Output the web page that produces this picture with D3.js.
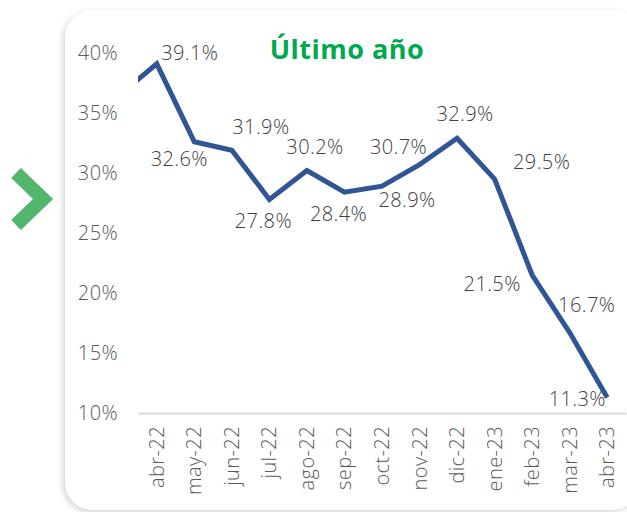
<!DOCTYPE html>
<html>

<head>
  <meta charset="utf8">
  <script src="https://d3js.org/d3.v7.min.js"></script>
  <style>
    body { margin: 0; background: #fff; }
    text { font-family: 'Open Sans', sans-serif; fill: #404040; font-weight: 300; letter-spacing: 0.4px; }
  </style>
</head>

<body>
  <svg id="chart" width="627" height="512"></svg>
  <script>
    // previous month (mar-22) sits just outside the plot and gets clipped
    var prevValue = 36.5;
    var months = ['abr-22', 'may-22', 'jun-22', 'jul-22', 'ago-22', 'sep-22', 'oct-22',
      'nov-22', 'dic-22', 'ene-23', 'feb-23', 'mar-23', 'abr-23'];
    var values = [39.1, 32.6, 31.9, 27.8, 30.2, 28.4, 28.9, 30.7, 32.9, 29.5, 21.5, 16.7, 11.3];
    var yTicks = [10, 15, 20, 25, 30, 35, 40];
    // label placement, the way the original has them
    var labelPlace = ['r', 'bl', 'ar', 'b', 'a', 'b', 'br', 'al', 'a', 'rr', 'l', 'ua', 'll'];

    var chart = d3.select('#chart');
    var margin = { top: 53, right: 1, bottom: 99, left: 138 };
    var width = chart.attr('width') - margin.left - margin.right;
    var height = chart.attr('height') - margin.top - margin.bottom;

    var defs = chart.append('defs');
    var f = defs.append('filter').attr('id', 'shadow')
      .attr('x', '-10%').attr('y', '-10%').attr('width', '120%').attr('height', '120%');
    f.append('feDropShadow').attr('dx', -2).attr('dy', 2).attr('stdDeviation', 3)
      .attr('flood-color', '#000').attr('flood-opacity', 0.18);
    defs.append('clipPath').attr('id', 'plotclip')
      .append('rect').attr('x', 0).attr('y', -20).attr('width', width).attr('height', height + 40);

    // card
    chart.append('rect')
      .attr('x', 65).attr('y', 10).attr('width', 575).attr('height', 500)
      .attr('rx', 28)
      .attr('fill', '#fff')
      .attr('filter', 'url(#shadow)');

    // green chevron
    chart.append('polyline')
      .attr('points', '16,173 43,199 16,225')
      .attr('fill', 'none')
      .attr('stroke', '#52B66C')
      .attr('stroke-width', 14);

    chart.append('text')
      .attr('x', 347).attr('y', 59)
      .attr('text-anchor', 'middle')
      .style('fill', '#00A94F')
      .style('font-size', '27px')
      .style('font-weight', 700)
      .style('letter-spacing', '0.5px')
      .text('Último año');

    var x = d3.scaleBand().domain(months).range([0, width]);
    var y = d3.scaleLinear().domain([10, 40]).range([height, 0]);

    var g = chart.append('g')
      .attr('transform', 'translate(' + margin.left + ',' + margin.top + ')');

    var yAxis = g.append('g')
      .attr('class', 'axis y-axis')
      .call(d3.axisLeft(y).tickValues(yTicks).tickFormat((d) => d + '%').tickSize(0).tickPadding(20));
    yAxis.select('.domain').remove();
    yAxis.selectAll('text').style('font-size', '20px').style('fill', '#595959');

    var xAxis = g.append('g')
      .attr('class', 'axis x-axis')
      .attr('transform', 'translate(0,' + height + ')')
      .call(d3.axisBottom(x).tickSize(0));
    xAxis.select('.domain').attr('stroke', '#d9d9d9').attr('stroke-width', 2);
    xAxis.selectAll('text')
      .style('font-size', '20px')
      .style('fill', '#595959')
      .style('text-anchor', 'end')
      .attr('transform', 'rotate(-90)')
      .attr('x', -13)
      .attr('y', 0)
      .attr('dy', '0.35em');

    var pts = values.map((v, i) => [x(months[i]) + x.bandwidth() / 2, y(v)]);
    pts.unshift([x(months[0]) - x.bandwidth() / 2, y(prevValue)]);

    g.append('path')
      .attr('clip-path', 'url(#plotclip)')
      .attr('d', d3.line()(pts))
      .attr('fill', 'none')
      .attr('stroke', '#2F5597')
      .attr('stroke-width', 5)
      .attr('stroke-linejoin', 'miter');

    var off = {
      r: [33, -11], rr: [47, -17], l: [-40, 9], ll: [-30, 2], a: [8, -24], b: [-6, 22],
      bl: [-15, 17], br: [25, 14], ar: [29, -23], al: [-21, -18], ua: [17, -28]
    };
    g.selectAll('.lbl')
      .data(values)
      .enter()
      .append('text')
      .attr('class', 'lbl')
      .attr('x', (d, i) => x(months[i]) + x.bandwidth() / 2 + off[labelPlace[i]][0])
      .attr('y', (d, i) => y(d) + off[labelPlace[i]][1])
      .attr('dy', '0.35em')
      .attr('text-anchor', 'middle')
      .style('font-size', '20px')
      .text((d) => d.toFixed(1) + '%');
  </script>
</body>

</html>
